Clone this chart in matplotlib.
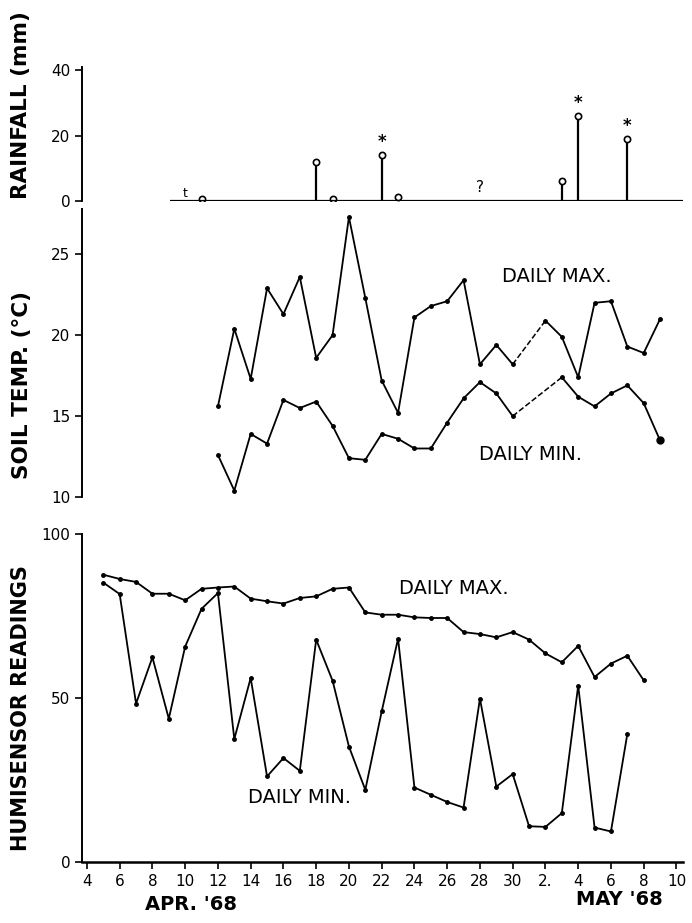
import numpy as np
import matplotlib.pyplot as plt

# day numbers: April days as-is, May d -> 30 + d
rain_days = [11, 18, 19, 22, 23, 33, 34, 37]
rain_mm = [0.6, 12, 0.5, 14, 1.2, 6, 26, 19]
rain_star = [22, 34, 37]
trace_days = [10]

soil_max_days = list(range(12, 31)) + list(range(32, 40))
soil_max = [15.6, 20.4, 17.3, 22.9, 21.3, 23.6, 18.6, 20.0, 27.3, 22.3, 17.2, 15.2,
            21.1, 21.8, 22.1, 23.4, 18.2, 19.4, 18.2,
            20.9, 19.9, 17.4, 22.0, 22.1, 19.3, 18.9, 21.0]
soil_min_days = list(range(12, 31)) + list(range(33, 40))
soil_min = [12.6, 10.4, 13.9, 13.3, 16.0, 15.5, 15.9, 14.4, 12.4, 12.3, 13.9, 13.6,
            13.0, 13.0, 14.6, 16.1, 17.1, 16.4, 15.0,
            17.4, 16.2, 15.6, 16.4, 16.9, 15.8, 13.5]

hum_max_days = list(range(5, 39))
hum_max = [87.6, 86.3, 85.4, 81.8, 81.8, 79.8, 83.3, 83.7, 84.0, 80.3, 79.5, 78.8,
           80.5, 81.0, 83.3, 83.7, 76.1, 75.4, 75.4, 74.6, 74.4, 74.4, 70.1, 69.5,
           68.5, 70.1, 67.8, 63.6, 60.9, 65.9, 56.4, 60.5, 62.9, 55.4]
hum_min_days = list(range(5, 38))
hum_min = [85.2, 81.7, 48.3, 62.4, 43.7, 65.7, 77.2, 82.0, 37.5, 56.1, 26.1, 31.7,
           27.8, 67.8, 55.3, 35.2, 22.0, 45.9, 68.1, 22.7, 20.5, 18.3, 16.6, 49.8,
           23.0, 26.8, 10.9, 10.7, 14.9, 53.8, 10.5, 9.3, 39.0]

tick_days = list(range(4, 41, 2))
tick_labels = ['4', '6', '8', '10', '12', '14', '16', '18', '20', '22', '24', '26',
               '28', '30', '2.', '4', '6', '8', '10']

plt.rcParams['font.family'] = ['DejaVu Sans']
fig = plt.figure(figsize=(6.92, 9.23), dpi=100)
xl = (3.7, 40.4)
left, width = 0.1185, 0.8685

# rainfall
ax1 = fig.add_axes([left, 0.7822, width, 0.1452])
for d, v in zip(rain_days, rain_mm):
    ax1.vlines(d, 0, v, color='black', lw=1.6)
ax1.plot(rain_days, rain_mm, 'o', ms=4.5, mfc='white', mec='black', mew=1.2)
for d in rain_star:
    v = rain_mm[rain_days.index(d)]
    ax1.text(d, v + 4, '*', ha='center', va='center', fontsize=12, fontweight='bold')
for d in trace_days:
    ax1.text(d, 0.3, 't', ha='center', va='bottom', fontsize=9)
ax1.text(28, 4, '?', ha='center', va='center', fontsize=11)
ax1.hlines(0, 9.1, xl[1], color='black', lw=1.6)
ax1.set_xlim(*xl)
ax1.set_ylim(0, 41)
ax1.set_yticks([0, 20, 40])
ax1.spines[['top', 'right', 'bottom']].set_visible(False)
ax1.set_xticks([])
ax1.tick_params(axis='y', labelsize=11, length=5, width=1.2)

# soil temperature
ax2 = fig.add_axes([left, 0.4615, width, 0.3121])
ax2.plot(soil_max_days[:19], soil_max[:19], 'k.-', ms=5, lw=1.3)
ax2.plot(soil_max_days[19:], soil_max[19:], 'k.-', ms=5, lw=1.3)
ax2.plot([soil_max_days[18], soil_max_days[19]], [soil_max[18], soil_max[19]], 'k--', lw=1.1)
ax2.plot(soil_min_days[:19], soil_min[:19], 'k.-', ms=5, lw=1.3)
ax2.plot(soil_min_days[19:], soil_min[19:], 'k.-', ms=5, lw=1.3)
ax2.plot([soil_min_days[18], soil_min_days[19]], [soil_min[18], soil_min[19]], 'k--', lw=1.1)
ax2.plot(soil_min_days[-1], soil_min[-1], 'ko', ms=5)
ax2.text(32.7, 23.6, 'DAILY MAX.', ha='center', va='center', fontsize=14)
ax2.text(31.1, 12.6, 'DAILY MIN.', ha='center', va='center', fontsize=14)
ax2.set_xlim(*xl)
ax2.set_ylim(10, 27.8)
ax2.set_yticks([10, 15, 20, 25])
ax2.spines[['top', 'right', 'bottom']].set_visible(False)
ax2.set_xticks([])
ax2.tick_params(axis='y', labelsize=11, length=5, width=1.2)

# humisensor
ax3 = fig.add_axes([left, 0.0661, width, 0.3553])
ax3.plot(hum_max_days, hum_max, 'k.-', ms=5, lw=1.3)
ax3.plot(hum_min_days, hum_min, 'k.-', ms=5, lw=1.3)
ax3.text(26.4, 83.3, 'DAILY MAX.', ha='center', va='center', fontsize=14)
ax3.text(17.0, 19.6, 'DAILY MIN.', ha='center', va='center', fontsize=14)
ax3.set_xlim(*xl)
ax3.set_ylim(0, 100)
ax3.set_yticks([0, 50, 100])
ax3.set_xticks(tick_days)
ax3.set_xticklabels(tick_labels)
ax3.spines[['top', 'right']].set_visible(False)
ax3.spines['bottom'].set_linewidth(1.8)
ax3.tick_params(labelsize=11, length=5, width=1.2)

for ax in (ax1, ax2, ax3):
    ax.spines['left'].set_linewidth(1.4)
    ax.patch.set_alpha(0)

fig.text(0.030, 0.886, 'RAINFALL (mm)', rotation=90, ha='center', va='center',
         fontsize=15.5, fontweight='bold')
fig.text(0.032, 0.583, 'SOIL TEMP. (\u00b0C)', rotation=90, ha='center', va='center',
         fontsize=15.5, fontweight='bold')
fig.text(0.031, 0.233, 'HUMISENSOR READINGS', rotation=90, ha='center', va='center',
         fontsize=15, fontweight='bold')
fig.text(0.276, 0.02, "APR. '68", ha='center', va='center', fontsize=14, fontweight='bold')
fig.text(0.895, 0.025, "MAY '68", ha='center', va='center', fontsize=14, fontweight='bold')

plt.savefig('out.png', dpi=100)
